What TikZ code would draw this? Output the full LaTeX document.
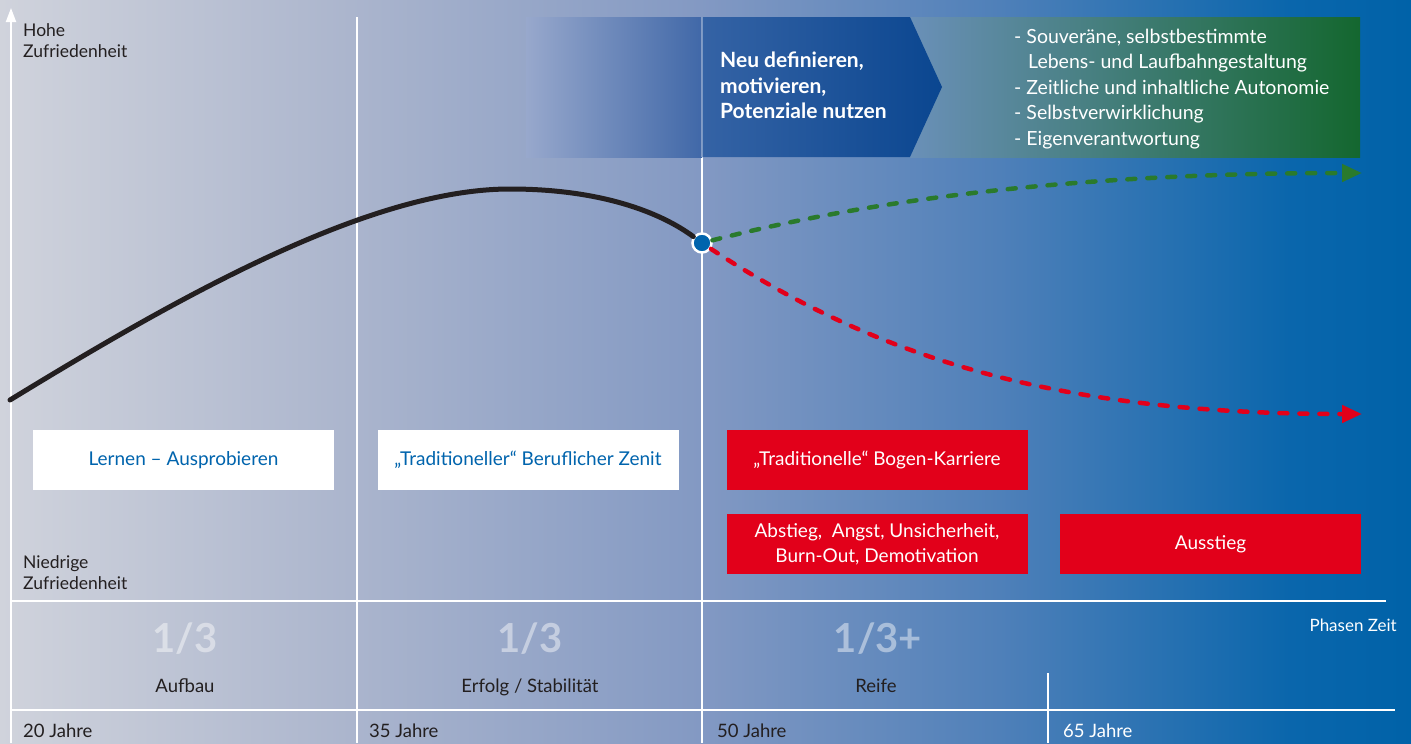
\documentclass[tikz,border=0pt]{standalone}
\usepackage{fontspec}
\setmainfont{Lato}
\usetikzlibrary{arrows.meta}
\definecolor{dunkel}{HTML}{231F20}
\definecolor{blau}{HTML}{0064AD}
\definecolor{rot}{HTML}{E2001A}
\definecolor{gruen}{HTML}{2A7A2C}
\definecolor{bgA}{HTML}{D0D3DC}
\definecolor{bgB}{HTML}{ABB5CD}
\definecolor{bgC}{HTML}{8399C3}
\definecolor{bgD}{HTML}{4F80B9}
\definecolor{bgE}{HTML}{0A66AC}
\definecolor{bgF}{HTML}{0062A8}
\pgfdeclarehorizontalshading{hintergrund}{100bp}{color(0bp)=(bgA); color(25bp)=(bgA); color(37.4bp)=(bgB); color(49.8bp)=(bgC); color(60.4bp)=(bgD); color(70.7bp)=(bgE); color(75bp)=(bgF); color(100bp)=(bgF)}
\begin{document}
\begin{tikzpicture}[x=1pt,y=-1pt,
  linie/.style={white,line width=2pt},
  achse/.style={anchor=north west,inner sep=0pt,align=left,text=dunkel,font=\fontsize{17.5}{21.5}\selectfont},
  weissbox/.style={fill=white,minimum width=301pt,minimum height=60pt,inner sep=0pt,align=center,text=blau,font=\fontsize{19}{25}\selectfont},
  rotbox/.style={weissbox,fill=rot,text=white},
  drittel/.style={anchor=base,text=white,text opacity=0.45,font=\bfseries\fontsize{40}{40}\selectfont},
  phase/.style={anchor=base,text=dunkel,font=\fontsize{18.5}{22}\selectfont},
  jahre/.style={anchor=base west,inner sep=0pt,text=dunkel,font=\fontsize{18.5}{22}\selectfont},
  kurve/.style={line width=5pt,line cap=round},
  pfeil/.style={line width=4.5pt,line cap=round,dash pattern=on 8pt off 12pt,-{Triangle[length=20pt,width=17pt]}}]
\shade[shading=hintergrund] (0,0) rectangle (1411,743);

\draw[linie] (357,17) -- (357,743);
\draw[linie] (702,17) -- (702,743);
\draw[linie] (1048,673) -- (1048,743);
\draw[linie] (11,601) -- (1386,601);
\draw[linie] (11,710) -- (1395,710);

\shade[left color={rgb,255:red,152;green,168;blue,204},right color={rgb,255:red,64;green,104;blue,168}] (526,17) rectangle (702,157);
\shade[left color={rgb,255:red,106;green,144;blue,184},right color={rgb,255:red,20;green,103;blue,47}] (910,17) rectangle (1360,157);
\shade[left color={rgb,255:red,53;green,99;blue,165},right color={rgb,255:red,10;green,70;blue,144}] (702,17) -- (910,17) -- (942,87) -- (910,157) -- (702,157) -- cycle;
\draw[linie,opacity=0.35] (702,17) -- (702,157);

\coordinate (achsefuss) at (11,743);
\coordinate (achsekopf) at (11,8);
\draw[white,line width=2pt,-{Triangle[length=14pt,width=10pt]}] (achsefuss) -- (achsekopf);

\node[achse] (hoch) at (23,23) {Hohe\\Zufriedenheit};
\node[achse] (tief) at (23,555) {Niedrige\\Zufriedenheit};

\node[anchor=north west,inner sep=0pt,align=left,text=white,font=\bfseries\fontsize{21}{25.7}\selectfont] (neu) at (720,51.5) {Neu definieren,\\motivieren,\\Potenziale nutzen};
\node[anchor=north west,inner sep=0pt,align=left,text=white,font=\fontsize{19.5}{25.6}\selectfont] (liste) at (1014,28.5) {- Souveräne, selbstbestimmte\\\hspace*{14pt}Lebens- und Laufbahngestaltung\\- Zeitliche und inhaltliche Autonomie\\- Selbstverwirklichung\\- Eigenverantwortung};

\node[weissbox] (lernen) at (183.5,460) {Lernen – Ausprobieren};
\node[weissbox] (zenit) at (528,460) {„Traditioneller“ Beruflicher Zenit};
\node[rotbox] (bogen) at (877,460) {„Traditionelle“ Bogen-Karriere};
\node[rotbox] (abstieg) at (877,544) {Abstieg,\ \ Angst, Unsicherheit,\\Burn-Out, Demotivation};
\node[rotbox] (ausstieg) at (1210.5,544) {Ausstieg};

\node[drittel] (eins) at (185,652) {1/3};
\node[drittel] (zwei) at (530,652) {1/3};
\node[drittel] (drei) at (878,652) {1/3+};
\node[phase] (aufbau) at (185,692) {Aufbau};
\node[phase] (erfolg) at (530,692) {Erfolg / Stabilität};
\node[phase] (reife) at (876,692) {Reife};
\node[anchor=base east,inner sep=0pt,text=white,font=\fontsize{17}{20}\selectfont] (zeit) at (1397,631) {Phasen Zeit};

\node[jahre] (j20) at (23,737) {20 Jahre};
\node[jahre] (j35) at (369,737) {35 Jahre};
\node[jahre] (j50) at (717,737) {50 Jahre};
\node[jahre,text=white] (j65) at (1063,737) {65 Jahre};

\node[circle,fill=blau,draw=white,line width=2.5pt,minimum size=19pt,inner sep=0pt] (wende) at (702,243) {};
\coordinate (anfang) at (10,400);
\coordinate (gipfel) at (510,189);
\coordinate (gruenende) at (1362,173);
\coordinate (rotende) at (1362,414);
\draw[kurve,dunkel] (anfang) .. controls (180,296) and (370,189) .. (gipfel) .. controls (600,189) and (660,212) .. (wende);
\draw[pfeil,gruen] (wende) .. controls (850,205) and (1050,173) .. (gruenende);
\draw[pfeil,rot] (wende) .. controls (880,360) and (1060,414) .. (rotende);
\end{tikzpicture}
\end{document}
